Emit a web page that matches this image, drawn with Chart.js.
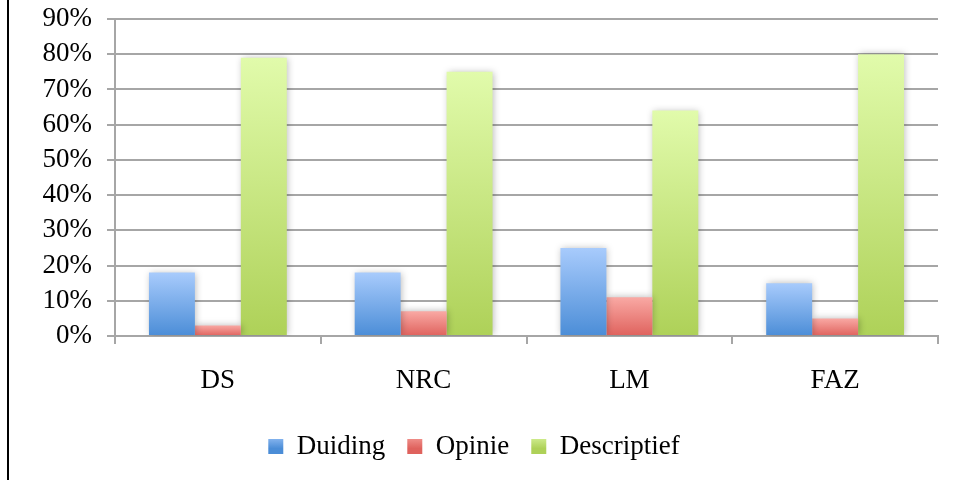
<!DOCTYPE html>
<html>
<head>
<meta charset="utf-8">
<script src="https://cdn.jsdelivr.net/npm/chart.js@4/dist/chart.umd.min.js"></script>
<style>
  html, body { margin: 0; padding: 0; background: #fff; }
  #wrap { position: relative; width: 957px; height: 480px; }
  #edge { position: absolute; left: 7px; top: 0; width: 2px; height: 480px; background: #000; }
  canvas { display: block; }
</style>
</head>
<body>
<div id="wrap">
  <canvas id="c" width="957" height="480"></canvas>
  <div id="edge"></div>
</div>
<script>
const categories = ["DS", "NRC", "LM", "FAZ"];
const duiding = [18, 18, 25, 15];
const opinie = [3, 7, 11, 5];
const descriptief = [79, 75, 64, 80];
const seriesNames = ["Duiding", "Opinie", "Descriptief"];
const yTicks = [0, 10, 20, 30, 40, 50, 60, 70, 80, 90];

const palette = [
  { top: "#a8cbfc", bottom: "#4b8dd7" },
  { top: "#f9a9a4", bottom: "#df625d" },
  { top: "#e1fbab", bottom: "#aed158" }
];

function barFill(idx) {
  return function (ctx) {
    const chart = ctx.chart;
    const p = palette[idx];
    if (!chart.chartArea || ctx.type !== "data" || !chart.scales.y) return p.bottom;
    const y = chart.scales.y.getPixelForValue(ctx.raw);
    const b = chart.scales.y.getPixelForValue(0);
    if (!isFinite(y) || !isFinite(b) || y === b) return p.bottom;
    const g = chart.ctx.createLinearGradient(0, y, 0, b);
    g.addColorStop(0, p.top);
    g.addColorStop(1, p.bottom);
    return g;
  };
}

const shadowPlugin = {
  id: "barShadow",
  beforeDatasetsDraw(chart) {
    const c = chart.ctx;
    c.save();
    c.shadowColor = "rgba(0,0,0,0.28)";
    c.shadowBlur = 7;
    c.shadowOffsetX = 1;
    c.shadowOffsetY = 0;
  },
  afterDatasetsDraw(chart) { chart.ctx.restore(); }
};

const legendGradPlugin = {
  id: "legendGrad",
  beforeDraw(chart) {
    const lg = chart.legend;
    if (!lg || !lg.legendItems) return;
    const cy = (lg.top + lg.bottom) / 2;
    lg.legendItems.forEach((it, i) => {
      const g = chart.ctx.createLinearGradient(0, cy - 8, 0, cy + 8);
      g.addColorStop(0, palette[i].top);
      g.addColorStop(1, palette[i].bottom);
      it.fillStyle = g;
    });
  }
};

const FONT = "'Liberation Serif', 'Times New Roman', serif";

new Chart(document.getElementById("c"), {
  type: "bar",
  data: {
    labels: categories,
    datasets: [
      { label: seriesNames[0], data: duiding, backgroundColor: barFill(0) },
      { label: seriesNames[1], data: opinie, backgroundColor: barFill(1) },
      { label: seriesNames[2], data: descriptief, backgroundColor: barFill(2) }
    ]
  },
  plugins: [shadowPlugin, legendGradPlugin],
  options: {
    responsive: false,
    animation: false,
    devicePixelRatio: 1,
    layout: { padding: { left: 10, right: 19, top: 19, bottom: 10 } },
    datasets: { bar: { categoryPercentage: 0.67, barPercentage: 1.0, borderWidth: 0 } },
    scales: {
      x: {
        grid: { display: true, drawOnChartArea: false, drawTicks: true, tickLength: 8, color: "#a6a6a6", lineWidth: 2 },
        border: { display: true, color: "#a6a6a6", width: 2 },
        ticks: { color: "#000", font: { family: FONT, size: 27 }, padding: 21 },
        afterFit(scale) { scale.height = 75; scale.paddingLeft = 0; scale.paddingRight = 0; }
      },
      y: {
        min: 0, max: 90,
        afterBuildTicks(scale) { scale.ticks = yTicks.map(v => ({ value: v })); },
        grid: { color: "#a6a6a6", lineWidth: 2, tickLength: 8, drawTicks: true },
        border: { display: true, color: "#a6a6a6", width: 2 },
        ticks: { color: "#000", font: { family: FONT, size: 27 }, padding: 15, autoSkip: false, callback: v => v + "%" },
        afterFit(scale) { scale.width = 105; scale.paddingTop = 0; scale.paddingBottom = 0; }
      }
    },
    plugins: {
      tooltip: { enabled: false },
      legend: {
        position: "bottom",
        labels: {
          color: "#000",
          font: { family: FONT, size: 27 },
          boxWidth: 15, boxHeight: 15,
          padding: 22,
          generateLabels(chart) {
            const items = Chart.defaults.plugins.legend.labels.generateLabels(chart);
            items.forEach((it, i) => { it.fillStyle = palette[i].bottom; it.strokeStyle = "rgba(0,0,0,0)"; it.lineWidth = 0; });
            return items;
          }
        }
      }
    }
  }
});
</script>
</body>
</html>
